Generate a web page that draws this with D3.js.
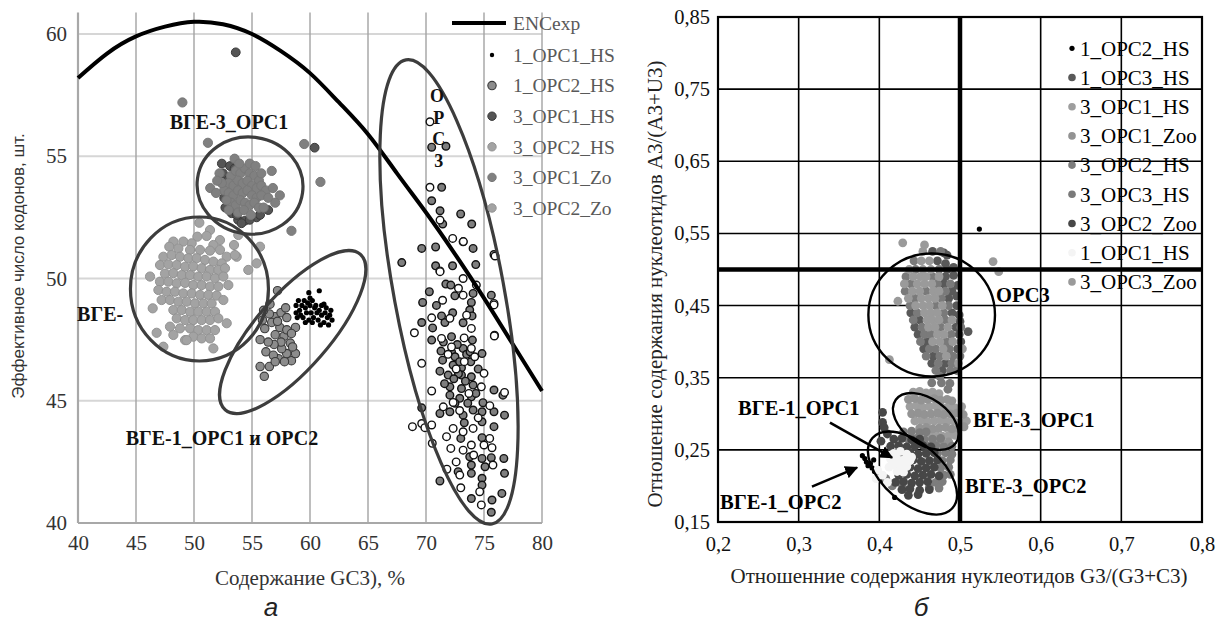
<!DOCTYPE html>
<html><head><meta charset="utf-8">
<script src="https://cdn.jsdelivr.net/npm/d3@7"></script>
<style>
body{margin:0;background:#fff}
svg{display:block}
</style></head><body>
<svg id="c" width="1221" height="625" font-family="Liberation Serif, Times New Roman, serif"></svg>
<script>
// ---------------- DATA: panel a ----------------
const aXTicks = [40,45,50,55,60,65,70,75,80];
const aYTicks = [40,45,50,55,60];
const encGC3 = [40,42.5,45,47.5,50,52.5,55,57.5,60,62.5,65,67.5,70,72.5,75,77.5,80];
const encValue = [58.2,59.2,59.9,60.3,60.5,60.4,60.0,59.3,58.4,57.2,55.9,54.3,52.7,51.0,49.2,47.3,45.4];

const a_1_OPC1_HS = [[58.8,48.9],[59.0,49.1],[59.1,48.7],[59.3,48.9],[59.2,48.5],[58.9,48.4],[59.5,49.1],[59.6,48.8],[59.4,48.4],[59.7,48.6],[59.8,49.0],[60.0,48.9],[60.1,48.6],[59.9,48.3],[60.2,49.1],[60.4,48.8],[60.3,48.4],[60.6,48.6],[60.5,48.9],[60.7,48.3],[60.8,48.7],[61.0,48.5],[61.0,48.9],[61.2,48.2],[61.3,48.6],[61.4,48.8],[61.5,48.4],[61.6,48.1],[61.7,48.5],[61.8,48.7],[61.9,48.3],[60.9,48.1],[60.2,48.2],[59.6,48.2],[58.8,48.6],[61.2,48.95],[59.9,49.42],[60.8,49.5],[60.0,49.2]];
const a_1_OPC2_HS = [[57.2,49.5],[56.55,48.95],[56.98,48.44],[57.5,48.6],[58.0,48.4],[56.1,47.95],[55.7,47.5],[57.4,48.0],[58.75,48.0],[57.76,47.64],[58.3,47.36],[56.2,47.0],[57.27,46.72],[56.84,46.86],[58.4,46.64],[58.75,46.93],[56.5,46.4],[55.7,46.4],[56.06,46.0],[57.99,46.93],[57.56,47.13],[58.5,47.2],[58.0,47.9],[58.4,47.75],[57.0,47.7],[56.5,48.55],[56.0,48.7],[55.9,48.3],[56.7,48.2],[57.2,48.25],[57.9,48.8],[57.5,47.4],[56.9,47.3],[57.8,46.6],[56.4,47.4],[57.0,46.6]];
const a_3_OPC1_HS = [[53.6,59.25],[60.4,55.35],[52.5,54.3],[52.8,53.9],[52.7,52.9],[53.25,52.67],[53.8,52.4],[54.4,52.37],[55.4,52.5],[56.4,52.8],[52.4,54.7],[53.1,54.6],[53.7,52.6],[54.1,52.26],[54.8,52.4],[55.7,52.6],[52.9,54.0],[53.0,53.4],[53.5,54.5],[52.6,53.3]];
const a_3_OPC2_HS = [[50.46,52.28],[51.38,51.98],[52.24,51.57],[53.45,51.37],[50.29,51.71],[51.09,51.74],[51.67,51.37],[49.80,51.44],[49.08,51.51],[48.22,51.51],[47.87,51.30],[48.65,51.23],[49.66,51.17],[50.52,51.17],[51.38,51.14],[52.24,51.17],[52.82,50.89],[53.68,50.89],[47.36,50.89],[48.07,50.96],[48.79,50.89],[49.51,50.83],[50.23,50.83],[50.95,50.76],[51.67,50.69],[52.39,50.62],[47.07,50.55],[47.79,50.58],[48.51,50.55],[49.23,50.48],[49.94,50.5],[50.66,50.42],[51.38,50.35],[52.10,50.35],[52.67,50.42],[47.50,50.20],[48.22,50.22],[48.94,50.14],[49.66,50.14],[50.37,50.08],[51.09,50.08],[51.81,50.01],[52.53,50.08],[47.07,49.87],[47.79,49.87],[48.51,49.80],[49.23,49.82],[49.94,49.73],[50.66,49.73],[51.38,49.67]];
const a_3_OPC1_Zo = [[53.2,54.2],[53.6,54.4],[54.0,54.3],[54.4,54.5],[54.8,54.3],[55.2,54.2],[55.6,54.0],[53.0,53.9],[53.4,53.8],[53.8,54.0],[54.2,53.9],[54.6,54.0],[55.0,53.8],[55.4,53.7],[55.8,53.8],[56.2,53.6],[52.6,53.6],[53.0,53.5],[53.4,53.4],[53.8,53.6],[54.2,53.5],[54.6,53.6],[55.0,53.4],[55.4,53.3],[55.8,53.4],[56.4,53.3],[53.2,53.1],[53.6,53.0],[54.0,53.2],[54.4,53.1],[54.8,53.0],[55.2,53.1],[55.6,52.9],[53.8,52.7],[54.3,52.8],[54.9,52.6],[52.2,54.3],[51.4,53.7],[51.9,53.5],[52.4,53.9],[53.5,54.9],[54.8,54.7],[55.8,54.3],[56.7,54.4],[57.4,53.4],[56.8,53.7],[57.0,53.1],[52.0,54.0],[55.3,54.6],[53.9,54.7],[56.0,52.9],[52.8,53.2],[53.0,52.8],[49.0,57.2],[51.2,55.55],[59.5,55.5],[60.9,53.95],[58.4,51.95]];
const a_3_OPC2_Zo = [[52.10,49.67],[52.96,49.73],[46.93,49.53],[47.64,49.46],[48.36,49.46],[49.08,49.39],[49.80,49.39],[50.52,49.33],[51.24,49.33],[51.95,49.3],[47.21,49.12],[47.93,49.12],[48.65,49.05],[49.37,49.05],[50.09,48.98],[50.81,48.98],[51.52,48.98],[52.53,49.12],[48.22,48.71],[48.94,48.71],[49.66,48.64],[50.37,48.64],[51.09,48.64],[51.81,48.64],[48.51,48.37],[49.23,48.30],[49.94,48.30],[50.66,48.30],[51.38,48.30],[52.10,48.37],[52.82,48.17],[47.93,48.03],[48.79,47.96],[49.66,47.96],[50.37,47.89],[51.09,47.89],[51.81,47.89],[49.94,47.62],[50.66,47.55],[51.38,47.55],[49.23,47.48],[46.44,48.78],[46.78,47.78],[47.36,47.21],[49.37,47.48],[51.67,47.14],[48.22,47.69],[54.68,50.35],[55.40,50.62],[55.69,51.30],[53.53,50.96],[53.82,51.78],[46.21,50.08]];
const a_1_OPC3_HS = [[69.63,51.23],[70.83,51.29],[74.06,51.23],[67.91,50.65],[70.83,50.52],[72.29,50.52],[74.29,50.57],[71.71,49.77],[72.14,49.73],[70.29,49.46],[72.49,49.29],[74.06,49.39],[75.63,49.32],[69.71,49.02],[73.91,49.02],[73.77,48.71],[71.34,48.47],[69.63,48.2],[70.57,47.98],[71.63,48.2],[73.2,48.19],[73.97,48.47],[72.2,47.62],[70.49,47.48],[74.0,47.48],[71.29,47.03],[72.2,47.0],[73.2,47.14],[74.83,46.93],[71.43,46.66],[72.34,46.46],[73.06,46.35],[73.86,46.59],[71.2,46.21],[71.91,46.05],[73.06,46.05],[73.91,45.98],[72.06,45.57],[75.86,45.44],[76.63,45.23],[73.06,45.5],[74.06,45.64],[72.06,45.23],[72.91,45.1],[73.91,45.16],[74.91,44.92],[69.63,44.71],[71.2,44.48],[72.06,44.55],[73.2,44.41],[74.06,44.62],[74.83,44.55],[75.86,44.55],[76.77,44.41],[74.83,44.14],[75.86,43.94],[73.0,43.46],[74.83,43.49],[73.77,42.71],[74.83,42.64],[75.63,42.67],[76.71,42.64],[73.91,42.37],[75.09,42.3],[72.77,42.1],[73.91,42.03],[74.83,41.83],[76.77,42.03],[71.2,41.72],[74.83,41.55],[76.54,41.21],[73.91,41.0],[75.69,40.94],[75.63,40.44],[70.49,55.37],[71.72,55.41],[71.35,53.73],[70.49,53.18],[71.21,52.77],[71.44,52.23],[72.99,52.64],[73.94,52.23],[72.5,46.8],[72.8,46.1],[73.4,45.8],[72.4,45.9],[73.5,46.9],[72.7,47.3],[73.6,44.9],[72.5,44.9],[73.3,44.1],[74.3,45.3],[71.6,45.7],[72.9,46.6],[73.8,47.0],[74.5,46.3],[71.5,47.4],[72.3,48.6],[70.9,48.9]];
const a_3_OPC3_HS = [[73.2,51.5],[71.2,50.31],[75.86,50.98],[73.2,50.0],[71.43,49.11],[73.2,49.32],[74.34,49.73],[75.86,48.98],[70.49,48.39],[72.06,48.37],[73.91,47.96],[69.0,47.78],[75.91,47.68],[71.34,47.55],[73.29,47.57],[73.91,47.14],[69.63,46.53],[75.0,46.12],[70.49,45.4],[74.77,45.57],[76.77,45.34],[72.34,44.93],[71.49,44.75],[69.63,44.07],[68.83,43.94],[70.49,44.01],[72.34,43.87],[73.2,43.73],[74.06,43.87],[71.77,43.53],[70.54,43.26],[75.49,43.46],[73.2,42.98],[73.91,43.19],[75.0,43.19],[75.69,43.08],[72.14,43.05],[74.11,42.78],[75.77,42.37],[72.91,41.96],[73.0,41.44],[74.63,41.28],[74.77,40.74],[70.34,56.41],[70.34,53.73],[71.21,52.39],[72.3,51.64],[73.22,51.51],[71.21,50.28],[75.95,50.92],[75.86,48.92],[75.89,47.65],[72.6,46.3],[73.3,46.6],[72.2,47.2],[73.7,45.3],[72.9,44.6],[71.9,46.9],[74.2,46.8],[73.5,48.5],[72.8,49.6],[74.5,44.3],[72.6,42.5],[71.8,42.2],[69.9,43.9],[75.5,44.8]];

// ---------------- DATA: panel b ----------------
const bXTicks = [0.2,0.3,0.4,0.5,0.6,0.7,0.8];
const bYTicks = [0.15,0.25,0.35,0.45,0.55,0.65,0.75,0.85];
const b_1_OPC2_HS = [[0.379,0.242],[0.382,0.238],[0.384,0.233],[0.386,0.228],[0.389,0.231],[0.391,0.225],[0.394,0.22],[0.398,0.218],[0.401,0.213],[0.404,0.208],[0.393,0.236],[0.419,0.184],[0.524,0.556]];
const b_1_OPC3_HS = [[0.466,0.525],[0.484,0.52],[0.472,0.512],[0.482,0.508],[0.484,0.50],[0.492,0.503],[0.482,0.49],[0.492,0.492],[0.48,0.48],[0.497,0.478],[0.49,0.47],[0.486,0.46],[0.496,0.463],[0.496,0.45],[0.439,0.44],[0.49,0.44],[0.499,0.437],[0.45,0.43],[0.5,0.428],[0.444,0.42],[0.495,0.42],[0.448,0.41],[0.499,0.41],[0.459,0.40],[0.501,0.40],[0.455,0.39],[0.497,0.39],[0.467,0.38],[0.465,0.37],[0.482,0.37],[0.478,0.36],[0.51,0.414],[0.48,0.523]];
const b_3_OPC1_HS = [[0.442,0.33],[0.45,0.331],[0.458,0.329],[0.466,0.33],[0.474,0.328],[0.438,0.31],[0.446,0.311],[0.454,0.309],[0.462,0.31],[0.47,0.311],[0.478,0.309],[0.486,0.31],[0.494,0.308],[0.502,0.31],[0.444,0.29],[0.452,0.291],[0.46,0.289],[0.468,0.29],[0.476,0.291],[0.484,0.289],[0.492,0.29],[0.5,0.288],[0.508,0.29],[0.462,0.27],[0.47,0.271],[0.478,0.269],[0.486,0.27],[0.494,0.27]];
const b_3_OPC1_Zoo = [[0.436,0.32],[0.444,0.321],[0.452,0.319],[0.46,0.32],[0.468,0.321],[0.476,0.319],[0.484,0.32],[0.49,0.318],[0.44,0.30],[0.448,0.301],[0.456,0.299],[0.464,0.30],[0.472,0.301],[0.48,0.299],[0.488,0.30],[0.496,0.301],[0.504,0.299],[0.45,0.28],[0.458,0.281],[0.466,0.279],[0.474,0.28],[0.482,0.281],[0.49,0.279],[0.498,0.28],[0.505,0.282],[0.476,0.262],[0.486,0.261]];
const b_3_OPC2_HS = [[0.43,0.275],[0.44,0.276],[0.45,0.274],[0.458,0.275],[0.436,0.265],[0.446,0.266],[0.456,0.264],[0.466,0.265],[0.476,0.266],[0.46,0.255],[0.47,0.256],[0.48,0.254],[0.49,0.255],[0.472,0.245],[0.482,0.246],[0.49,0.244],[0.478,0.235],[0.488,0.236],[0.476,0.225],[0.486,0.226],[0.48,0.215],[0.488,0.216],[0.47,0.205],[0.478,0.206],[0.462,0.198],[0.474,0.197],[0.416,0.2],[0.408,0.21],[0.425,0.205],[0.43,0.196]];
const b_3_OPC3_HS = [[0.476,0.525],[0.443,0.512],[0.445,0.50],[0.474,0.50],[0.433,0.49],[0.466,0.49],[0.439,0.48],[0.472,0.48],[0.488,0.48],[0.432,0.47],[0.458,0.47],[0.482,0.47],[0.444,0.46],[0.477,0.46],[0.438,0.45],[0.47,0.45],[0.486,0.45],[0.447,0.44],[0.48,0.44],[0.442,0.43],[0.482,0.43],[0.453,0.42],[0.476,0.42],[0.501,0.42],[0.456,0.41],[0.464,0.41],[0.489,0.41],[0.451,0.40],[0.483,0.40],[0.462,0.39],[0.47,0.39],[0.487,0.39],[0.458,0.38],[0.475,0.38],[0.491,0.38],[0.5,0.38],[0.473,0.37],[0.49,0.37],[0.47,0.36],[0.488,0.36],[0.496,0.36],[0.465,0.343],[0.477,0.343],[0.4875,0.342],[0.485,0.334],[0.475,0.352]];
const b_3_OPC2_Zoo = [[0.418,0.265],[0.428,0.266],[0.44,0.264],[0.45,0.265],[0.414,0.255],[0.424,0.256],[0.434,0.254],[0.444,0.255],[0.454,0.256],[0.464,0.254],[0.428,0.245],[0.438,0.246],[0.448,0.244],[0.458,0.245],[0.468,0.246],[0.432,0.235],[0.442,0.236],[0.452,0.234],[0.462,0.235],[0.472,0.236],[0.428,0.225],[0.438,0.226],[0.448,0.224],[0.458,0.225],[0.468,0.226],[0.424,0.215],[0.434,0.216],[0.444,0.214],[0.454,0.215],[0.464,0.216],[0.474,0.214],[0.42,0.205],[0.43,0.206],[0.44,0.204],[0.45,0.205],[0.46,0.206],[0.428,0.195],[0.438,0.196],[0.45,0.194],[0.462,0.195],[0.436,0.187],[0.448,0.188],[0.404,0.302],[0.404,0.288],[0.406,0.281],[0.41,0.272],[0.402,0.262]];
const b_1_OPC1_HS = [[0.418,0.245],[0.426,0.248],[0.434,0.244],[0.414,0.237],[0.422,0.238],[0.43,0.236],[0.438,0.235],[0.418,0.229],[0.426,0.228],[0.434,0.227],[0.422,0.22],[0.43,0.219],[0.44,0.24],[0.412,0.226],[0.398,0.222],[0.404,0.215],[0.396,0.21],[0.41,0.205]];
const b_3_OPC3_Zoo = [[0.454,0.525],[0.452,0.512],[0.462,0.512],[0.437,0.50],[0.454,0.50],[0.464,0.50],[0.442,0.49],[0.451,0.49],[0.458,0.49],[0.474,0.49],[0.431,0.48],[0.447,0.48],[0.456,0.48],[0.465,0.48],[0.441,0.47],[0.45,0.47],[0.467,0.47],[0.474,0.47],[0.436,0.46],[0.452,0.46],[0.461,0.46],[0.469,0.46],[0.445,0.45],[0.454,0.45],[0.462,0.45],[0.478,0.45],[0.456,0.44],[0.464,0.44],[0.472,0.44],[0.459,0.43],[0.466,0.43],[0.474,0.43],[0.49,0.43],[0.461,0.42],[0.469,0.42],[0.485,0.42],[0.472,0.41],[0.48,0.41],[0.466,0.40],[0.475,0.40],[0.491,0.40],[0.479,0.39],[0.503,0.39],[0.483,0.38],[0.498,0.37],[0.429,0.537],[0.456,0.534],[0.541,0.511],[0.548,0.497],[0.423,0.456],[0.4125,0.375]];

// ---------------- LAYOUT / STYLE ----------------
const svg = d3.select("#c");
svg.append("rect").attr("width",1221).attr("height",625).attr("fill","#fff");
const SERIF = "Liberation Serif, Times New Roman, serif";
const SANS = "Liberation Sans, Arial, sans-serif";

const xA = d3.scaleLinear().domain([40,80]).range([78,542]);
const yA = d3.scaleLinear().domain([40,60]).range([523,34]);
const yATop = 60.88;
const xB = d3.scaleLinear().domain([0.2,0.8]).range([718,1202]);
const yB = d3.scaleLinear().domain([0.15,0.85]).range([522,17]);

function pts(g, data, xs, ys, st){
  g.append("g").selectAll("circle").data(data).join("circle")
    .attr("cx",d=>xs(d[0])).attr("cy",d=>ys(d[1])).attr("r",st.r)
    .attr("fill",st.fill).attr("stroke",st.stroke||"none").attr("stroke-width",st.sw||0);
}

// ===== panel a =====
const gA = svg.append("g");
gA.selectAll(".hg").data(aYTicks.filter(v=>v>40)).join("line")
  .attr("x1",xA(40)).attr("x2",xA(80)).attr("y1",d=>yA(d)).attr("y2",d=>yA(d))
  .attr("stroke","#d6d6d6").attr("stroke-width",2);
gA.selectAll(".vg").data(aXTicks.filter(v=>v>40)).join("line")
  .attr("x1",d=>xA(d)).attr("x2",d=>xA(d)).attr("y1",yA(yATop)).attr("y2",yA(40))
  .attr("stroke","#a3a3a3").attr("stroke-width",1.4);
gA.append("line").attr("x1",xA(40)).attr("x2",xA(40)).attr("y1",yA(yATop)).attr("y2",yA(40)).attr("stroke","#a8a8a8").attr("stroke-width",2.2);
gA.append("line").attr("x1",xA(40)).attr("x2",xA(80)).attr("y1",yA(40)).attr("y2",yA(40)).attr("stroke","#a8a8a8").attr("stroke-width",2.2);

const axA1 = gA.append("g").attr("transform",`translate(0,${yA(40)})`)
  .call(d3.axisBottom(xA).tickValues(aXTicks).tickSize(0).tickPadding(12));
const axA2 = gA.append("g").attr("transform",`translate(${xA(40)},0)`)
  .call(d3.axisLeft(yA).tickValues(aYTicks).tickSize(0).tickPadding(11));
[axA1,axA2].forEach(a=>{a.select(".domain").remove();
  a.selectAll("text").attr("font-family",SERIF).attr("font-size",21).attr("fill","#333");});

const stA = {
  "1_OPC1_HS":{r:2.6,fill:"#000"},
  "1_OPC2_HS":{r:4.2,fill:"#8c8c8c",stroke:"#3a3a3a",sw:1.1},
  "3_OPC1_HS":{r:4.4,fill:"#555",stroke:"#3a3a3a",sw:1},
  "3_OPC2_HS":{r:4.6,fill:"#a3a3a3",stroke:"#939393",sw:1},
  "3_OPC1_Zo":{r:4.6,fill:"#808080",stroke:"#787878",sw:1},
  "3_OPC2_Zo":{r:4.6,fill:"#a3a3a3",stroke:"#939393",sw:1},
  "g3":{r:3.8,fill:"#7f7f7f",stroke:"#111",sw:1.4},
  "w3":{r:3.8,fill:"#fff",stroke:"#111",sw:1.4}
};
pts(gA,a_1_OPC3_HS,xA,yA,stA.g3);
pts(gA,a_3_OPC3_HS,xA,yA,stA.w3);
pts(gA,a_1_OPC1_HS,xA,yA,stA["1_OPC1_HS"]);
pts(gA,a_1_OPC2_HS,xA,yA,stA["1_OPC2_HS"]);
pts(gA,a_3_OPC1_HS,xA,yA,stA["3_OPC1_HS"]);
pts(gA,a_3_OPC2_HS,xA,yA,stA["3_OPC2_HS"]);
pts(gA,a_3_OPC1_Zo,xA,yA,stA["3_OPC1_Zo"]);
pts(gA,a_3_OPC2_Zo,xA,yA,stA["3_OPC2_Zo"]);

gA.append("path").datum(d3.zip(encGC3,encValue))
  .attr("d",d3.line().x(d=>xA(d[0])).y(d=>yA(d[1])).curve(d3.curveNatural))
  .attr("fill","none").attr("stroke","#000").attr("stroke-width",4);

const ringsA = [
  {cx:71.98,cy:49.45,rx:55,ry:236,rot:-10.5},
  {cx:54.83,cy:53.8,rx:53,ry:48.5,rot:8},
  {cx:50.47,cy:49.57,rx:69,ry:72,rot:0},
  {cx:58.51,cy:47.81,rx:103,ry:37,rot:-49}
];
gA.selectAll(".ring").data(ringsA).join("ellipse")
  .attr("transform",d=>`translate(${xA(d.cx)},${yA(d.cy)}) rotate(${d.rot})`)
  .attr("rx",d=>d.rx).attr("ry",d=>d.ry).attr("fill","none").attr("stroke","#3d3d3d").attr("stroke-width",3.2);

const annA = [
  {t:"ВГЕ-3_ОРС1",x:53.02,y:56.11,a:"middle",s:20},
  {t:"ВГЕ-",x:39.92,y:48.26,a:"start",s:20},
  {t:"ВГЕ-1_ОРС1 и ОРС2",x:52.41,y:43.19,a:"middle",s:20},
  {t:"О",x:70.95,y:57.2,a:"middle",s:18},
  {t:"Р",x:71.1,y:56.32,a:"middle",s:18},
  {t:"С",x:71.1,y:55.44,a:"middle",s:18},
  {t:"3",x:71.1,y:54.56,a:"middle",s:18}
];
gA.selectAll(".ann").data(annA).join("text")
  .attr("x",d=>xA(d.x)).attr("y",d=>yA(d.y)).attr("text-anchor",d=>d.a)
  .attr("font-weight","bold").attr("font-size",d=>d.s).attr("fill","#111").text(d=>d.t);

const legA = ["1_OPC1_HS","1_OPC2_HS","3_OPC1_HS","3_OPC2_HS","3_OPC1_Zo","3_OPC2_Zo"];
const lgA = gA.append("g");
lgA.append("line").attr("x1",452).attr("x2",506).attr("y1",23).attr("y2",23).attr("stroke","#000").attr("stroke-width",4);
lgA.append("text").attr("x",513).attr("y",23).attr("dy","0.35em").attr("font-size",19.5).attr("fill","#595959").text("ENCexp");
legA.forEach((n,i)=>{
  const y = 55 + i*30.6;
  const s = stA[n];
  lgA.append("circle").attr("cx",492).attr("cy",y).attr("r",n==="1_OPC1_HS"?2.2:4.2)
    .attr("fill",s.fill).attr("stroke",s.stroke||"none").attr("stroke-width",s.sw||0);
  lgA.append("text").attr("x",513).attr("y",y).attr("dy","0.35em").attr("font-size",19.5).attr("fill","#595959").text(n);
});

gA.append("text").attr("x",xA(60)).attr("y",585).attr("text-anchor","middle").attr("font-size",21).attr("fill","#333").text("Содержание GC3), %");
gA.append("text").attr("transform","translate(24,266) rotate(-90)").attr("text-anchor","middle")
  .attr("font-family",SANS).attr("font-size",17).attr("fill","#333").text("Эффективное число кодонов, шт.");
gA.append("text").attr("x",271).attr("y",616).attr("text-anchor","middle").attr("font-family",SANS)
  .attr("font-style","italic").attr("font-size",26).attr("fill","#222").text("а");

// ===== panel b =====
const gB = svg.append("g");
const stB = {
  "1_OPC2_HS":{r:2.6,fill:"#000"},
  "1_OPC3_HS":{r:4.4,fill:"#595959"},
  "3_OPC1_HS":{r:4.4,fill:"#9e9e9e"},
  "3_OPC1_Zoo":{r:4.4,fill:"#939393"},
  "3_OPC2_HS":{r:4.4,fill:"#7d7d7d"},
  "3_OPC3_HS":{r:4.4,fill:"#7a7a7a"},
  "3_OPC2_Zoo":{r:4.4,fill:"#474747"},
  "1_OPC1_HS":{r:4.4,fill:"#f4f4f4"},
  "3_OPC3_Zoo":{r:4.4,fill:"#9a9a9a"}
};
gB.selectAll(".vg").data(bXTicks).join("line")
  .attr("x1",d=>xB(d)).attr("x2",d=>xB(d)).attr("y1",yB(0.85)).attr("y2",yB(0.15)).attr("stroke","#000").attr("stroke-width",1.6);
gB.selectAll(".hg").data(bYTicks).join("line")
  .attr("x1",xB(0.2)).attr("x2",xB(0.8)).attr("y1",d=>yB(d)).attr("y2",d=>yB(d)).attr("stroke","#000").attr("stroke-width",1.6);
gB.append("rect").attr("x",xB(0.2)).attr("y",yB(0.85)).attr("width",xB(0.8)-xB(0.2)).attr("height",yB(0.15)-yB(0.85))
  .attr("fill","none").attr("stroke","#000").attr("stroke-width",2.2);

pts(gB,b_1_OPC2_HS,xB,yB,stB["1_OPC2_HS"]);
pts(gB,b_1_OPC3_HS,xB,yB,stB["1_OPC3_HS"]);
pts(gB,b_3_OPC1_HS,xB,yB,stB["3_OPC1_HS"]);
pts(gB,b_3_OPC1_Zoo,xB,yB,stB["3_OPC1_Zoo"]);
pts(gB,b_3_OPC2_HS,xB,yB,stB["3_OPC2_HS"]);
pts(gB,b_3_OPC3_HS,xB,yB,stB["3_OPC3_HS"]);
pts(gB,b_3_OPC2_Zoo,xB,yB,stB["3_OPC2_Zoo"]);
pts(gB,b_1_OPC1_HS,xB,yB,stB["1_OPC1_HS"]);
pts(gB,b_3_OPC3_Zoo,xB,yB,stB["3_OPC3_Zoo"]);

gB.append("line").attr("x1",xB(0.5)).attr("x2",xB(0.5)).attr("y1",yB(0.85)).attr("y2",yB(0.15)).attr("stroke","#000").attr("stroke-width",4.5);
gB.append("line").attr("x1",xB(0.2)).attr("x2",xB(0.8)).attr("y1",yB(0.5)).attr("y2",yB(0.5)).attr("stroke","#000").attr("stroke-width",4.5);

const axB1 = gB.append("g").attr("transform",`translate(0,${yB(0.15)})`)
  .call(d3.axisBottom(xB).tickValues(bXTicks).tickSize(0).tickPadding(14).tickFormat(d=>d.toFixed(1).replace(".",",")));
const axB2 = gB.append("g").attr("transform",`translate(${xB(0.2)},0)`)
  .call(d3.axisLeft(yB).tickValues(bYTicks).tickSize(0).tickPadding(8).tickFormat(d=>d.toFixed(2).replace(".",",")));
[axB1,axB2].forEach(a=>{a.select(".domain").remove();
  a.selectAll("text").attr("font-family",SERIF).attr("font-size",20.5).attr("fill","#111");});

const ringsB = [
  {cx:0.4649,cy:0.437,rx:63.3,ry:61.5,rot:0},
  {cx:0.4576,cy:0.2894,rx:37,ry:22.7,rot:35.8},
  {cx:0.4411,cy:0.2179,rx:53.2,ry:29.5,rot:41.2}
];
gB.selectAll(".ring").data(ringsB).join("ellipse")
  .attr("transform",d=>`translate(${xB(d.cx)},${yB(d.cy)}) rotate(${d.rot})`)
  .attr("rx",d=>d.rx).attr("ry",d=>d.ry).attr("fill","none").attr("stroke","#000").attr("stroke-width",2.4);

svg.append("defs").append("marker").attr("id","ah").attr("viewBox","0 0 10 10").attr("refX",9).attr("refY",5)
  .attr("markerWidth",5).attr("markerHeight",5).attr("orient","auto")
  .append("path").attr("d","M0,0L10,5L0,10Z").attr("fill","#000");
const arrowsB = [
  {x1:0.3388,y1:0.2876,x2:0.4157,y2:0.2393},
  {x1:0.3165,y1:0.199,x2:0.3723,y2:0.2254}
];
gB.selectAll(".arr").data(arrowsB).join("line")
  .attr("x1",d=>xB(d.x1)).attr("y1",d=>yB(d.y1)).attr("x2",d=>xB(d.x2)).attr("y2",d=>yB(d.y2))
  .attr("stroke","#000").attr("stroke-width",2.6).attr("marker-end","url(#ah)");

const annB = [
  {t:"ОРС3",x:0.5446,y:0.4552},
  {t:"ВГЕ-3_ОРС1",x:0.5161,y:0.282},
  {t:"ВГЕ-3_ОРС2",x:0.5062,y:0.1906},
  {t:"ВГЕ-1_ОРС1",x:0.2248,y:0.2986},
  {t:"ВГЕ-1_ОРС2",x:0.2025,y:0.1684}
];
gB.selectAll(".ann").data(annB).join("text")
  .attr("x",d=>xB(d.x)).attr("y",d=>yB(d.y)).attr("font-weight","bold").attr("font-size",20.5).attr("fill","#000").text(d=>d.t);

const legB = ["1_OPC2_HS","1_OPC3_HS","3_OPC1_HS","3_OPC1_Zoo","3_OPC2_HS","3_OPC3_HS","3_OPC2_Zoo","1_OPC1_HS","3_OPC3_Zoo"];
legB.forEach((n,i)=>{
  const y = 48.3 + i*29.2;
  gB.append("circle").attr("cx",1072).attr("cy",y).attr("r",n==="1_OPC2_HS"?2.6:3.8).attr("fill",stB[n].fill);
  gB.append("text").attr("x",1080).attr("y",y).attr("dy","0.35em").attr("font-size",21).attr("fill","#000").text(n);
});

gB.append("text").attr("x",959).attr("y",583).attr("text-anchor","middle").attr("font-size",21).attr("fill","#222")
  .text("Отношенние содержания нуклеотидов G3/(G3+C3)");
gB.append("text").attr("transform","translate(662,284) rotate(-90)").attr("text-anchor","middle").attr("font-size",21).attr("fill","#222")
  .text("Отношение содержания нуклеотидов A3/(A3+U3)");
gB.append("text").attr("x",921).attr("y",616).attr("text-anchor","middle").attr("font-family",SANS)
  .attr("font-style","italic").attr("font-size",26).attr("fill","#222").text("б");
</script>
</body></html>
